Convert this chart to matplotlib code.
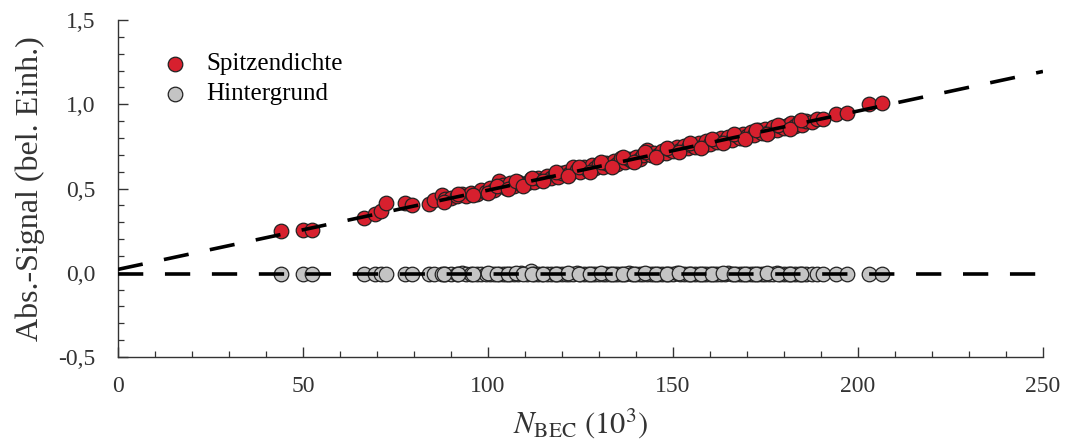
import numpy as np
import matplotlib
matplotlib.use("Agg")
import matplotlib.pyplot as plt
from matplotlib.ticker import MultipleLocator, FuncFormatter

# N_BEC in 10^3, same shots for both series
n_bec = [44, 50, 52.5, 66.5, 69.5, 71, 72.5, 77.5, 79.5, 84, 85.5, 87.5, 88.5, 90,
         91.5, 93, 94, 95.5, 97, 98, 99.5, 100.5, 101.5, 103, 104, 105, 106, 107,
         108, 109, 110.5, 111.5, 112.5, 113.5, 114.5, 116, 117, 118, 119, 120, 121,
         122, 123, 124, 125, 126, 127, 128, 129, 130, 131, 132, 133, 134, 135, 136,
         137, 138, 139, 140, 141, 142, 143, 144, 145, 146, 147, 148, 149, 150, 151,
         152, 153, 154, 155, 156, 157, 158, 159, 160, 161, 162, 163, 164, 165, 166,
         167, 168, 169, 170, 171, 172, 173, 174, 175, 176, 177, 178, 179, 180, 181,
         182, 183, 184, 185, 186, 187.5, 189, 190.5, 194, 197, 203, 206.5,
         100, 102.5, 105.5, 107.5, 109.5, 112, 115, 118.5, 121.5, 124.5, 127.5,
         130.5, 133.5, 136.5, 139.5, 142.5, 145.5, 148.5, 151.5, 154.5, 157.5,
         160.5, 163.5, 166.5, 169.5, 172.5, 175.5, 178.5, 181.5, 184.5, 88, 92, 96]

peak = [0.250, 0.255, 0.255, 0.325, 0.350, 0.365, 0.415, 0.415, 0.400, 0.410,
        0.430, 0.460, 0.440, 0.445, 0.455, 0.470, 0.455, 0.475, 0.470, 0.490,
        0.480, 0.505, 0.490, 0.545, 0.520, 0.505, 0.530, 0.515, 0.540, 0.525,
        0.535, 0.555, 0.540, 0.565, 0.550, 0.575, 0.560, 0.585, 0.570, 0.595,
        0.600, 0.585, 0.630, 0.610, 0.600, 0.625, 0.610, 0.640, 0.620, 0.645,
        0.630, 0.650, 0.640, 0.665, 0.645, 0.680, 0.660, 0.675, 0.665, 0.690,
        0.675, 0.700, 0.730, 0.700, 0.710, 0.700, 0.725, 0.710, 0.735, 0.720,
        0.745, 0.730, 0.755, 0.740, 0.760, 0.745, 0.770, 0.755, 0.780, 0.765,
        0.790, 0.775, 0.800, 0.780, 0.805, 0.790, 0.815, 0.800, 0.825, 0.810,
        0.835, 0.820, 0.845, 0.830, 0.855, 0.835, 0.865, 0.845, 0.870, 0.860,
        0.880, 0.890, 0.870, 0.895, 0.880, 0.900, 0.895, 0.915, 0.910, 0.945,
        0.950, 1.000, 1.005,
        0.475, 0.515, 0.500, 0.545, 0.515, 0.565, 0.545, 0.600, 0.575, 0.630,
        0.600, 0.655, 0.630, 0.685, 0.655, 0.715, 0.685, 0.740, 0.715, 0.770,
        0.740, 0.795, 0.770, 0.825, 0.795, 0.850, 0.825, 0.880, 0.855, 0.905,
        0.420, 0.465, 0.460]

background = [-0.008, -0.006, -0.008, -0.007, -0.006, -0.009, -0.005, -0.008,
              -0.006, -0.007, -0.009, -0.005, -0.008, -0.006, -0.007, -0.004,
              -0.009, -0.006, -0.008, -0.005, -0.007, -0.009, -0.006, -0.008,
              -0.005, -0.007, -0.010, -0.006, -0.008, -0.004, -0.007, 0.008,
              -0.006, -0.009, -0.005, -0.008, -0.006, -0.007, -0.009, -0.005,
              -0.008, -0.006, -0.007, -0.004, -0.009, -0.006, -0.008, -0.005,
              -0.007, -0.009, -0.006, -0.008, -0.005, -0.007, -0.010, -0.006,
              -0.008, -0.004, -0.007, -0.006, -0.009, -0.005, -0.008, -0.006,
              -0.007, -0.009, -0.005, -0.008, -0.006, -0.007, -0.004, -0.009,
              -0.006, -0.008, -0.005, -0.007, -0.009, -0.006, -0.008, -0.005,
              -0.007, -0.010, -0.006, -0.008, -0.004, -0.007, -0.006, -0.009,
              -0.005, -0.008, -0.006, -0.007, -0.009, -0.005, -0.008, -0.006,
              -0.007, -0.004, -0.009, -0.006, -0.008, -0.005, -0.007, -0.009,
              -0.006, -0.008, -0.005, -0.007, -0.006, -0.008, -0.007, -0.006,
              -0.007,
              -0.004, -0.010, -0.006, -0.003, -0.009, -0.007, -0.005, -0.010,
              -0.004, -0.008, -0.006, -0.003, -0.009, -0.005, -0.010, -0.004,
              -0.008, -0.006, -0.003, -0.009, -0.005, -0.010, -0.004, -0.007,
              -0.006, -0.009, -0.003, -0.008, -0.005, -0.010, -0.005, -0.008,
              -0.006]

# linear fits
fit_x = [0, 250]
fit_peak = [0.02, 1.195]
fit_background = [-0.005, -0.005]

plt.rcParams['font.family'] = ['Liberation Serif', 'DejaVu Serif']
plt.rcParams['mathtext.fontset'] = 'stix'

fig = plt.figure(figsize=(10.65, 4.46), dpi=100)
ax = fig.add_axes([0.1108, 0.1996, 0.8685, 0.7554])

ax.scatter(n_bec, peak, s=110, c='#d7202e', edgecolors='#222222',
           linewidths=0.9, zorder=3, label='Spitzendichte')
ax.scatter(n_bec, background, s=110, c='#c4c4c4', edgecolors='#222222',
           linewidths=0.9, zorder=3, label='Hintergrund')
ax.plot(fit_x, fit_peak, color='black', lw=2.6, ls=(0, (7, 6)), zorder=4)
ax.plot(fit_x, fit_background, color='black', lw=2.6, ls=(0, (7, 6)), zorder=4)

ax.set_xlim(0, 250)
ax.set_ylim(-0.5, 1.5)
ax.xaxis.set_major_locator(MultipleLocator(50))
ax.xaxis.set_minor_locator(MultipleLocator(10))
ax.yaxis.set_major_locator(MultipleLocator(0.5))
ax.yaxis.set_minor_locator(MultipleLocator(0.1))
ax.yaxis.set_major_formatter(FuncFormatter(lambda v, p: f"{v:.1f}".replace('.', ',')))
ax.xaxis.set_major_formatter(FuncFormatter(lambda v, p: f"{v:.0f}"))

for s in ['top', 'right']:
    ax.spines[s].set_visible(False)
for s in ['left', 'bottom']:
    ax.spines[s].set_linewidth(1.0)
    ax.spines[s].set_color('#333333')
ax.tick_params(which='major', direction='in', length=7, width=1.0,
               labelsize=17, colors='#333333')
ax.tick_params(which='minor', direction='in', length=4, width=0.9, colors='#333333')
ax.tick_params(axis='x', pad=14)
ax.tick_params(axis='y', pad=16)

ax.set_ylabel('Abs.-Signal (bel. Einh.)', fontsize=23, color='#333333', labelpad=10)
ax.set_xlabel(r'$N_\mathrm{BEC}$ $(10^3)$', fontsize=22, color='#333333', labelpad=6)

ax.legend(loc='upper left', bbox_to_anchor=(0.016, 0.955), frameon=False,
          fontsize=18, handletextpad=0.25, labelspacing=0.3, borderpad=0.2)

fig.savefig('out.png', dpi=100)
